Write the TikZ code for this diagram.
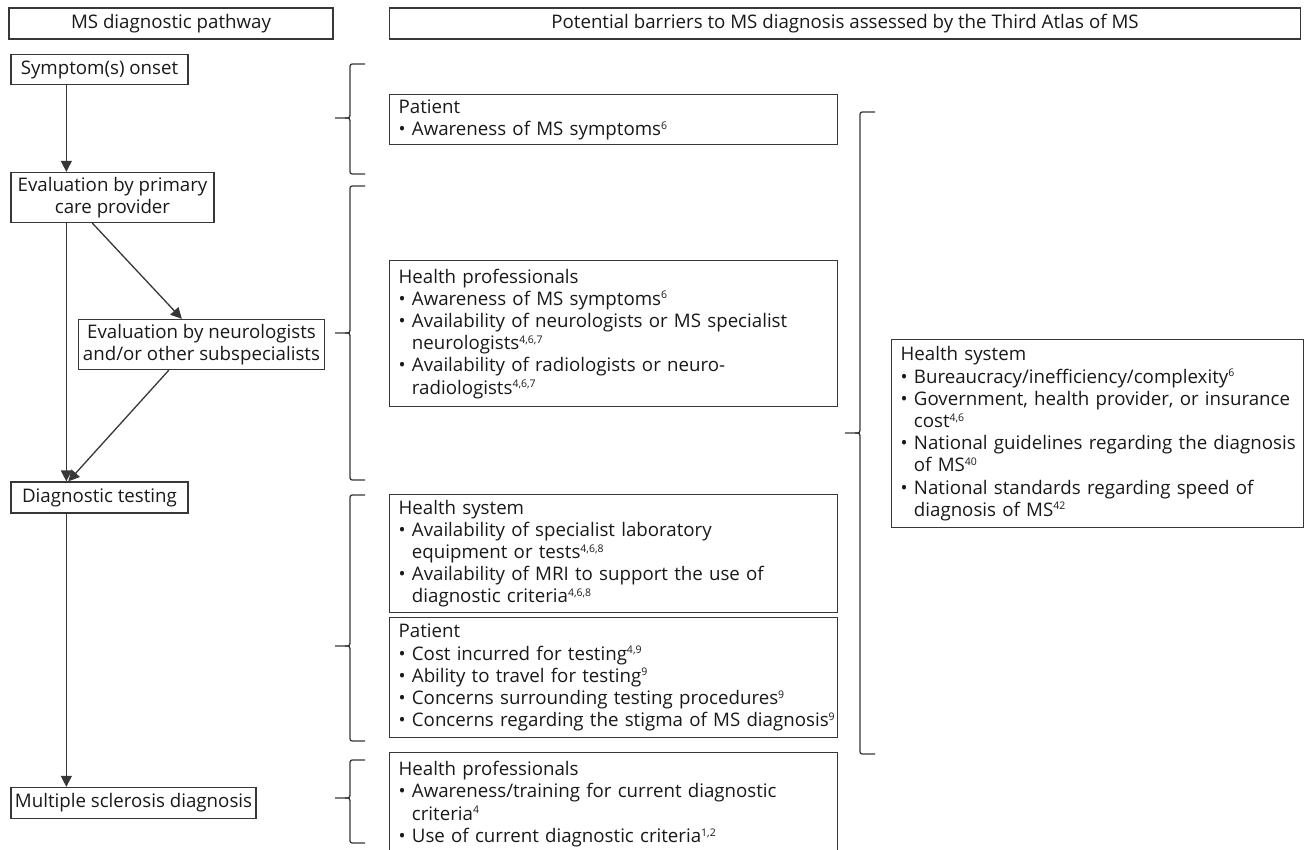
\documentclass[tikz,border=0pt]{standalone}
\usepackage{fontspec}
\setmainfont{Open Sans}
\usepackage{xcolor}
\usepackage{tikz}
\usetikzlibrary{arrows.meta,positioning}
\definecolor{linegray}{RGB}{55,55,55}
\definecolor{textdark}{RGB}{25,25,25}
% bullet lines, continuation lines and reference marks
\newcommand{\bul}[1]{\mbox{•\ #1}}
\newcommand{\cont}[1]{\mbox{\phantom{•\ }#1}}
\newcommand{\refs}[1]{\raisebox{6.3pt}{\fontsize{10.5}{10}\selectfont #1}}
% curly bracket: x, top, tip, bottom
\newcommand{\barbrace}[4]{%
  \draw[bracestroke] (#1+15,#2) -- (#1+5,#2) .. controls (#1,#2) .. (#1,#2+5) -- (#1,#3-6) .. controls (#1,#3) .. (#1-5,#3) -- (#1-15,#3);
  \draw[bracestroke] (#1-5,#3) .. controls (#1,#3) .. (#1,#3+6) -- (#1,#4-5) .. controls (#1,#4) .. (#1+5,#4) -- (#1+15,#4);
}

\begin{document}
\begin{tikzpicture}[
    x=1pt, y=-1pt,
    every node/.style={font=\fontsize{18.7}{22.2}\selectfont, text=textdark},
    header/.style={rectangle, draw=linegray, line width=1.3pt, minimum height=31pt, inner sep=2pt, align=center},
    stepbox/.style={rectangle, draw=linegray, line width=1.3pt, inner sep=2pt, align=center},
    barrier/.style={rectangle, draw=linegray, line width=1.3pt, anchor=north west, inner xsep=9pt, inner ysep=3pt, text width=430pt, align=left},
    flow/.style={-{Triangle[length=11pt,width=11pt]}, line width=1.3pt, draw=linegray},
    bracestroke/.style={line width=1.3pt, draw=linegray}
]
\useasboundingbox (0,0) rectangle (1305,850);

% Column headers
\node[header, minimum width=324pt] (pathhead) at (171,23.5) {MS diagnostic pathway};
\node[header, minimum width=911pt] (barrierhead) at (845,23.5) {Potential barriers to MS diagnosis assessed by the Third Atlas of MS};

% Diagnostic pathway
\node[stepbox, minimum width=177pt, minimum height=30pt] (onset) at (99.5,69.5) {Symptom(s) onset};
\node[stepbox, minimum width=203pt, minimum height=50pt] (primary) at (112.5,197.5) {Evaluation by primary\\care provider};
\node[stepbox, minimum width=246pt, minimum height=50pt] (neuro) at (201.5,344.5) {Evaluation by neurologists\\and/or other subspecialists};
\node[stepbox, minimum width=177pt, minimum height=31pt] (testing) at (99.5,497.5) {Diagnostic testing};
\node[stepbox, minimum width=245pt, minimum height=31pt] (diagnosis) at (133.5,803) {Multiple sclerosis diagnosis};

% Barriers per stage
\node[barrier, minimum height=50pt] (patsymptoms) at (389,94) {Patient\\
\bul{Awareness of MS symptoms\refs{6}}};
\node[barrier, minimum height=146pt] (profaccess) at (389,260) {Health professionals\\
\bul{Awareness of MS symptoms\refs{6}}\\
\bul{Availability of neurologists or MS specialist}\\
\cont{neurologists\refs{4,6,7}}\\
\bul{Availability of radiologists or neuro-}\\
\cont{radiologists\refs{4,6,7}}};
\node[barrier, minimum height=118pt] (systesting) at (389,494) {Health system\\
\bul{Availability of specialist laboratory}\\
\cont{equipment or tests\refs{4,6,8}}\\
\bul{Availability of MRI to support the use of}\\
\cont{diagnostic criteria\refs{4,6,8}}};
\node[barrier, minimum height=120pt] (pattesting) at (389,617) {Patient\\
\bul{Cost incurred for testing\refs{4,9}}\\
\bul{Ability to travel for testing\refs{9}}\\
\bul{Concerns surrounding testing procedures\refs{9}}\\
\bul{Concerns regarding the stigma of MS diagnosis\refs{9}}};
\node[barrier, minimum height=103pt] (profcriteria) at (389,752) {Health professionals\\
\bul{Awareness/training for current diagnostic}\\
\cont{criteria\refs{4}}\\
\bul{Use of current diagnostic criteria\refs{1,2}}};

% Health system, whole pathway
\node[barrier, text width=394pt, minimum height=188pt] (sysall) at (891,339) {Health system\\
\bul{Bureaucracy/inefficiency/complexity\refs{6}}\\
\bul{Government, health provider, or insurance}\\
\cont{cost\refs{4,6}}\\
\bul{National guidelines regarding the diagnosis}\\
\cont{of MS\refs{40}}\\
\bul{National standards regarding speed of}\\
\cont{diagnosis of MS\refs{42}}};

% Arrows
\draw[flow] ([xshift=56pt]onset.south west) -- ([xshift=56pt]primary.north west);
\draw[flow] ([xshift=56pt]primary.south west) -- ([xshift=56pt]testing.north west);
\draw[flow] ([xshift=82pt]primary.south west) -- ([xshift=104pt]neuro.north west);
\draw[flow] ([xshift=91pt]neuro.south west) -- ([xshift=58pt]testing.north west);
\draw[flow] ([xshift=56pt]testing.south west) -- ([xshift=56pt]diagnosis.north west);

% Brackets
\barbrace{350}{64}{118}{174}
\barbrace{350}{186}{333}{480}
\barbrace{350}{495}{646}{741}
\barbrace{350}{760}{798}{843}
\barbrace{860}{112}{433}{754}
\end{tikzpicture}
\end{document}
